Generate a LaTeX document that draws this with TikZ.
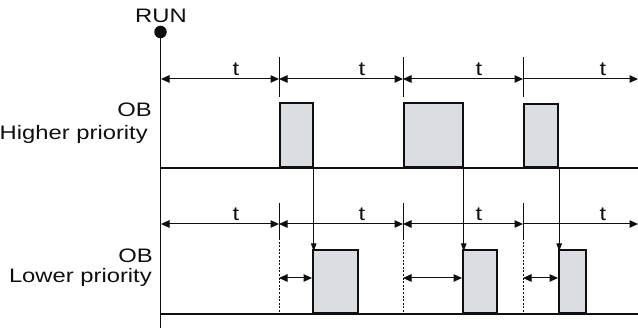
\documentclass[tikz,border=0pt]{standalone}
\usepackage{fontspec}
\usepackage{graphicx}
\setmainfont{Liberation Sans}
\usetikzlibrary{arrows.meta}
\definecolor{boxgray}{RGB}{218,222,226}
\definecolor{ink}{RGB}{15,15,15}
\newcommand\wtxt[1]{\scalebox{1.22}[1]{#1}}
\begin{document}
\begin{tikzpicture}[x=1pt,y=-1pt,
  lbl/.style={inner sep=0pt,anchor=base east,font=\fontsize{19.5}{22}\selectfont,text=ink},
  tlbl/.style={inner sep=0pt,anchor=base,font=\fontsize{19.5}{22}\selectfont,text=ink},
  axisline/.style={line width=1.9pt,draw=ink},
  baseline/.style={line width=1.9pt,draw=ink},
  dimline/.style={line width=1pt,draw=ink,{Triangle[length=8.5pt,width=7.5pt]}-{Triangle[length=8.5pt,width=7.5pt]}},
  dimend/.style={line width=1pt,draw=ink,-{Triangle[length=8.5pt,width=7.5pt]}},
  tickline/.style={line width=1pt,draw=ink},
  dotline/.style={line width=1pt,draw=ink,dash pattern=on 2pt off 1.6pt},
  callarrow/.style={line width=1pt,draw=ink,-{Triangle[length=8pt,width=5.5pt]}},
  obbox/.style={draw=ink,fill=boxgray,line width=1.7pt,inner sep=0pt,anchor=south west}
]
\useasboundingbox (0,0) rectangle (638,331);

% axis
\node[circle,fill=ink,inner sep=0pt,minimum size=12.5pt] (run) at (160.5,32) {};
\node[tlbl] (runlbl) at (161,23) {\wtxt{RUN}};
\coordinate (axbot) at (160.5,328);
\draw[axisline] (run.center) -- (axbot);

% labels
\node[lbl] (ob1) at (152,117) {\wtxt{OB}};
\node[lbl] (hp) at (148,140) {\wtxt{Higher priority}};
\node[lbl] (ob2) at (153,263) {\wtxt{OB}};
\node[lbl] (lp) at (152,283) {\wtxt{Lower priority}};

% upper time grid
\coordinate (a0) at (161,79);
\coordinate (a1) at (279,79);
\coordinate (a2) at (403,79);
\coordinate (a3) at (523,79);
\coordinate (a4) at (638,79);
\draw[dimline] (a0) -- (a1);
\draw[dimline] (a1) -- (a2);
\draw[dimline] (a2) -- (a3);
\draw[dimend] (a3) -- (a4);
\foreach \x/\n in {279/1,403/2,523/3}{
  \coordinate (ut\n) at (\x,57);
  \coordinate (ub\n) at (\x,97);
  \draw[tickline] (ut\n) -- (ub\n);
}
\node[tlbl] (t1) at (236,76) {\wtxt{t}};
\node[tlbl] (t2) at (362,76) {\wtxt{t}};
\node[tlbl] (t3) at (479,76) {\wtxt{t}};
\node[tlbl] (t4) at (603,76) {\wtxt{t}};

% upper boxes
\node[obbox,minimum width=33pt,minimum height=64pt] (h1) at (279,168) {};
\node[obbox,minimum width=59pt,minimum height=64pt] (h2) at (403,168) {};
\node[obbox,minimum width=34pt,minimum height=63pt] (h3) at (523,168) {};
\coordinate (hb0) at (160.5,168);
\coordinate (hb1) at (638,168);
\draw[baseline] (hb0) -- (hb1);

% lower time grid
\coordinate (b0) at (161,224);
\coordinate (b1) at (279,224);
\coordinate (b2) at (403,224);
\coordinate (b3) at (523,224);
\coordinate (b4) at (638,224);
\draw[dimline] (b0) -- (b1);
\draw[dimline] (b1) -- (b2);
\draw[dimline] (b2) -- (b3);
\draw[dimend] (b3) -- (b4);
\foreach \x/\n in {279/1,403/2,523/3}{
  \coordinate (lt\n) at (\x,203);
  \coordinate (lm\n) at (\x,238);
  \coordinate (lb\n) at (\x,314);
  \coordinate (ls\n) at (\x,278);
  \draw[tickline] (lt\n) -- (lm\n);
  \draw[dotline] (lm\n) -- (lb\n);
}
\node[tlbl] (s1) at (236,221) {\wtxt{t}};
\node[tlbl] (s2) at (362,221) {\wtxt{t}};
\node[tlbl] (s3) at (479,221) {\wtxt{t}};
\node[tlbl] (s4) at (603,221) {\wtxt{t}};

% lower boxes
\node[obbox,minimum width=45pt,minimum height=63pt] (l1) at (312,314) {};
\node[obbox,minimum width=34pt,minimum height=63pt] (l2) at (462,314) {};
\node[obbox,minimum width=27pt,minimum height=63pt] (l3) at (558,314) {};
\coordinate (lb0) at (160.5,314);
\coordinate (lbe) at (638,314);
\draw[baseline] (lb0) -- (lbe);

% delay arrows
\draw[dimline] (ls1) -- (ls1 -| l1.west);
\draw[dimline] (ls2) -- (ls2 -| l2.west);
\draw[dimline] (ls3) -- (ls3 -| l3.west);

% call arrows
\draw[callarrow] (h1.south east) -- ([yshift=-2pt]h1.south east |- l1.north);
\draw[callarrow] (h2.south east) -- ([yshift=-2pt]h2.south east |- l2.north);
\draw[callarrow] ([xshift=0.5pt]h3.south east) -- ([xshift=0.5pt,yshift=-2pt]h3.south east |- l3.north);
\end{tikzpicture}
\end{document}
